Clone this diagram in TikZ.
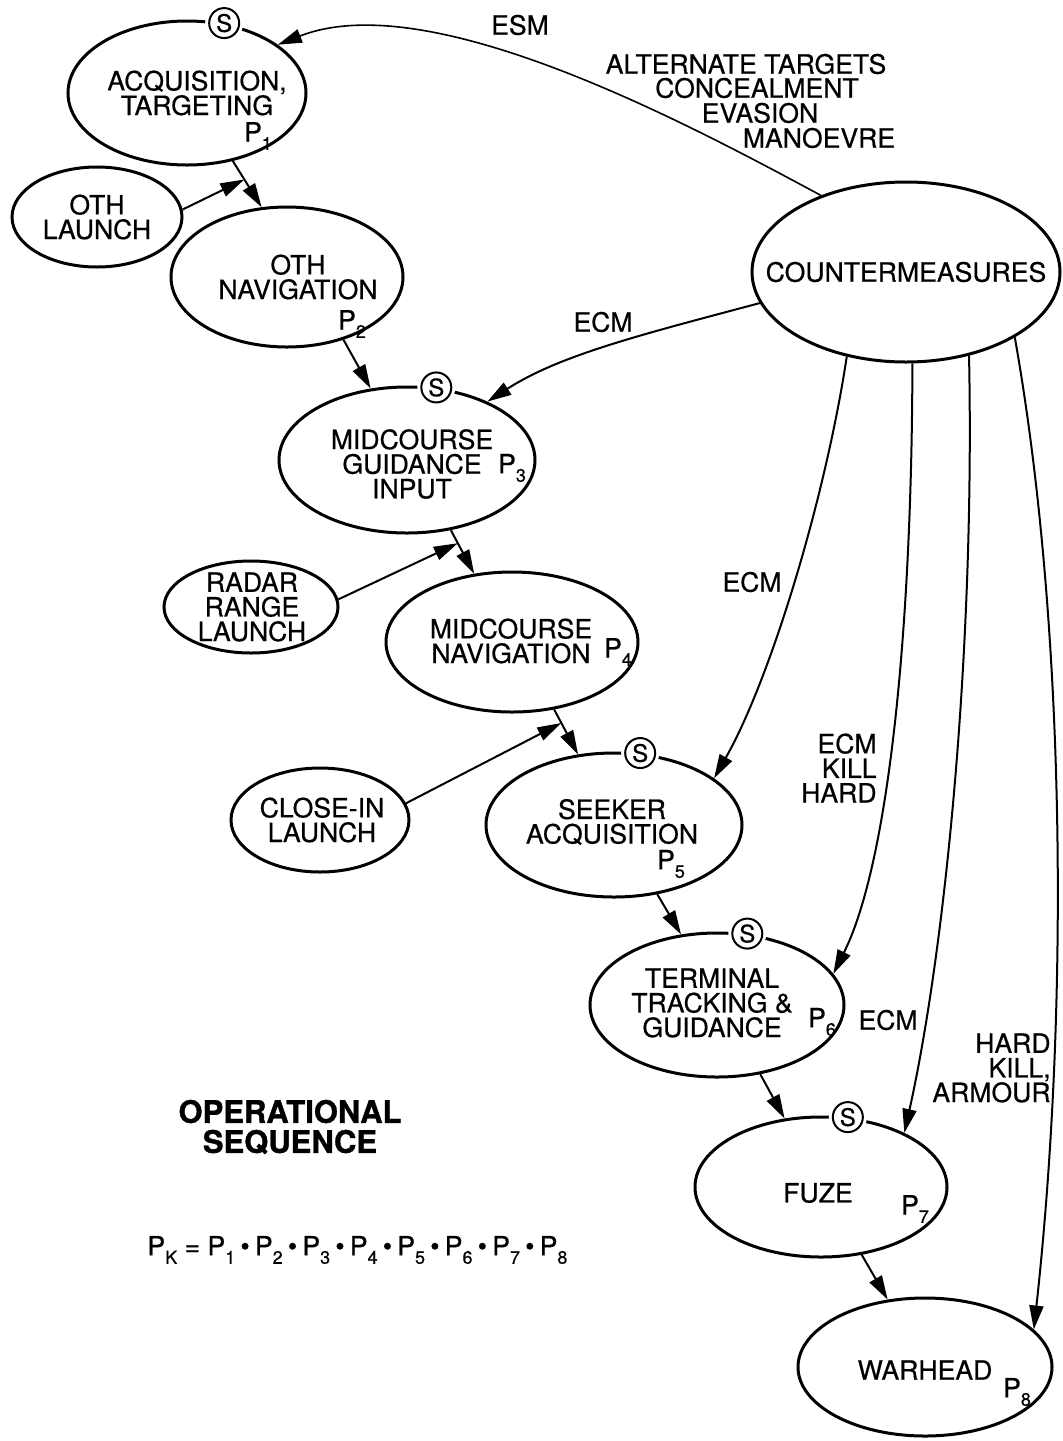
\documentclass[tikz,border=0pt]{standalone}
\usepackage{fontspec}
\setmainfont{TeX Gyre Heros}[UprightFeatures={FakeBold=0.6},BoldFeatures={FakeBold=1.2}]
\usepackage{tikz}
\usetikzlibrary{shapes.geometric,arrows.meta,calc}
\newcommand{\psub}[1]{\raisebox{-0.6ex}{\fontsize{9}{9}\selectfont #1}}
\newcommand{\dotsep}{\hspace{2.6pt}•\hspace{2.6pt}}

\begin{document}
\begin{tikzpicture}[x=0.5pt,y=0.5pt,yscale=-1,
  every node/.style={font=\fontsize{13.3}{12.3}\selectfont},
  blob/.style={ellipse, draw, line width=1.5pt, inner sep=0pt},
  txt/.style={align=center, inner sep=0pt},
  sbadge/.style={circle, draw, fill=white, line width=1pt, minimum size=15pt, inner sep=0pt,
    font=\fontsize{12}{12}\selectfont, preaction={draw=white, line width=4pt}},
  seq/.style={-{Triangle[length=12pt,width=7pt]}, line width=1pt},
  cmline/.style={-{Triangle[length=12pt,width=7pt]}, line width=1pt}]
\useasboundingbox (0,0) rectangle (1062,1441);

%Shape: Ellipse - operational sequence
\node[blob, minimum width=119pt, minimum height=72pt] (acq) at (187,93) {};
\node[blob, minimum width=85pt, minimum height=50pt] (othl) at (97,217) {};
\node[blob, minimum width=116pt, minimum height=70pt] (othnav) at (287,277) {};
\node[blob, minimum width=128pt, minimum height=73pt] (mgi) at (407,460) {};
\node[blob, minimum width=87pt, minimum height=46pt] (radar) at (251,607) {};
\node[blob, minimum width=126pt, minimum height=70pt] (mnav) at (512,642) {};
\node[blob, minimum width=89pt, minimum height=52pt] (close) at (320,820) {};
\node[blob, minimum width=128pt, minimum height=72pt] (seeker) at (614,825) {};
\node[blob, minimum width=127pt, minimum height=72pt] (term) at (717,1005) {};
\node[blob, minimum width=126pt, minimum height=70pt] (fuze) at (821,1187) {};
\node[blob, minimum width=127pt, minimum height=69pt] (warhead) at (925,1367) {};
%Shape: Ellipse - countermeasures
\node[blob, minimum width=154pt, minimum height=90pt] (cm) at (906,272) {};

% Text Node
\node[txt] (acq-t) at (197,93) {ACQUISITION,\\TARGETING};
\node[txt] (acq-p) at (258,136) {P\psub{1}};
\node[txt] (othl-t) at (97,217) {OTH\\LAUNCH};
\node[txt] (othnav-t) at (298,277) {OTH\\NAVIGATION};
\node[txt] (othnav-p) at (352,324) {P\psub{2}};
\node[txt] (mgi-t) at (412,464) {MIDCOURSE\\GUIDANCE\\INPUT};
\node[txt] (mgi-p) at (512,468) {P\psub{3}};
\node[txt] (radar-t) at (252,607) {RADAR\\RANGE\\LAUNCH};
\node[txt] (mnav-t) at (511,641) {MIDCOURSE\\NAVIGATION};
\node[txt] (mnav-p) at (618,652) {P\psub{4}};
\node[txt] (close-t) at (322,820) {CLOSE-IN\\LAUNCH};
\node[txt] (seeker-t) at (612,822) {SEEKER\\ACQUISITION};
\node[txt] (seeker-p) at (671,864) {P\psub{5}};
\node[txt] (term-t) at (712,1003) {TERMINAL\\TRACKING \&\\GUIDANCE};
\node[txt] (term-p) at (822,1022) {P\psub{6}};
\node[txt] (fuze-t) at (818,1193) {FUZE};
\node[txt] (fuze-p) at (915,1209) {P\psub{7}};
\node[txt] (warhead-t) at (925,1370) {WARHEAD};
\node[txt] (warhead-p) at (1017,1392) {P\psub{8}};
\node[txt] (cm-t) at (906,272) {COUNTERMEASURES};

% S markers
\node[sbadge] (acq-s) at (acq.62) {S};
\node[sbadge] (mgi-s) at (mgi.68) {S};
\node[sbadge] (seeker-s) at (seeker.70) {S};
\node[sbadge] (term-s) at (term.67) {S};
\node[sbadge] (fuze-s) at (fuze.69) {S};

%Straight Lines - sequence
\draw[seq] (acq.-56) -- (othnav.110);
\coordinate (j1) at ($(acq.-56)!0.4!(othnav.110)$);
\draw[seq] (othl.5) -- (j1);
\draw[seq] (othnav.-48) -- (mgi.117);
\draw[seq] (mgi.-58) -- (mnav.119);
\coordinate (j2) at ($(mgi.-58)!0.3!(mnav.119)$);
\draw[seq] (radar.5) -- (j2);
\draw[seq] (mnav.-58) -- (seeker.117);
\coordinate (j3) at ($(mnav.-58)!0.3!(seeker.117)$);
\draw[seq] (close.11) -- (j3);
\draw[seq] (seeker.-58) -- (term.117);
\draw[seq] (term.-58) -- (fuze.118);
\draw[seq] (fuze.-59) -- (warhead.119);

%Curve Lines - countermeasures
\draw[cmline, line width=0.8pt] (cm.138) .. controls (690,125) and (430,-15) .. (acq.28);
\draw[cmline] (cm.192) .. controls (640,335) and (560,355) .. (mgi.36);
\draw[cmline] (cm.235) .. controls (825,500) and (770,680) .. (seeker.25);
\draw[cmline] (cm.274) .. controls (912,620) and (890,860) .. (term.15);
\draw[cmline] (cm.307) .. controls (975,650) and (945,950) .. (fuze.33);
\draw[cmline] (cm.329) .. controls (1065,620) and (1070,1000) .. (warhead.19);

% Text Node - connector labels
\node[txt] (esm) at (520,25) {ESM};
\node[txt] (alt1) at (746,64) {ALTERNATE TARGETS};
\node[txt] (alt2) at (757,88) {CONCEALMENT};
\node[txt] (alt3) at (760,113) {EVASION};
\node[txt] (alt4) at (819,138) {MANOEVRE};
\node[txt] (ecm1) at (603,322) {ECM};
\node[txt] (ecm2) at (752,582) {ECM};
\node[txt, align=right, anchor=east] (ecm3) at (877,768) {ECM\\KILL\\HARD};
\node[txt] (ecm4) at (888,1020) {ECM};
\node[txt, align=right, anchor=east] (hka) at (1051,1068) {HARD\\KILL,\\ARMOUR};

% Text Node - caption and formula
\node[txt, font=\fontsize{15.5}{15}\selectfont\bfseries] (opseq) at (290,1127) {OPERATIONAL\\SEQUENCE};
\node[txt, anchor=west] (pk) at (147,1250) {P\psub{K} = P\psub{1}\dotsep P\psub{2}\dotsep P\psub{3}\dotsep P\psub{4}\dotsep P\psub{5}\dotsep P\psub{6}\dotsep P\psub{7}\dotsep P\psub{8}};

\end{tikzpicture}
\end{document}
